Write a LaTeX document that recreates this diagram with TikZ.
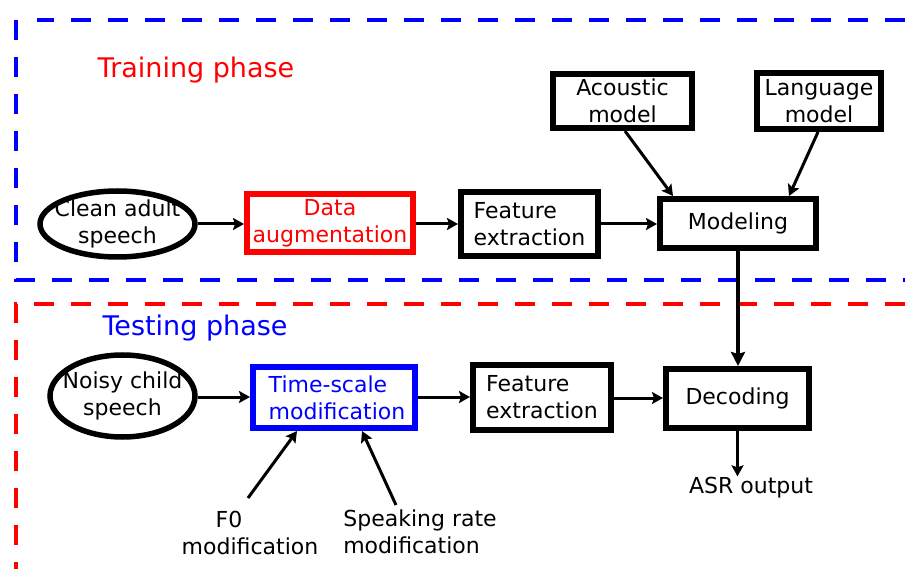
\documentclass[tikz,border=0pt]{standalone}
\usepackage{fontspec}
\setmainfont{DejaVu Sans}
\usetikzlibrary{arrows.meta,calc,shapes.geometric}
\begin{document}
\begin{tikzpicture}[x=1pt,y=-1pt,
  every node/.style={font=\fontsize{22}{27}\selectfont, align=center, inner sep=1pt},
  box/.style={draw, rectangle, line width=6pt},
  oval/.style={draw, ellipse, line width=5.5pt, inner sep=0pt},
  arr/.style={line width=3pt, -{Stealth[length=11pt,width=12pt,inset=2pt]}},
  bigarr/.style={line width=4.5pt, -{Stealth[length=14pt,width=14pt,inset=2pt]}},
  phase/.style={font=\fontsize{27}{32}\selectfont},
  frame/.style={line width=3.2pt, dash pattern=on 20pt off 17pt}
]
\useasboundingbox (0,0) rectangle (905,569);
% frames
\draw[frame, blue] (905,20) -- (37,20);
\draw[frame, blue] (16,20) -- (16,280) -- (905,280);
\draw[frame, red] (905,304) -- (16,304) -- (16,569);
\node[phase, text=red] (train) at (196,70) {Training phase};
\node[phase, text=blue] (test) at (195,328) {Testing phase};
% training
\node[oval, minimum width=155pt, minimum height=66pt, label={[align=center]center:Clean adult\\speech}] (clean) at (117.5,224) {};
\node[box, draw=red, text=red, minimum width=166pt, minimum height=58pt] (aug) at (330,223) {Data\\augmentation};
\node[box, align=left, minimum width=137pt, minimum height=64pt] (feat1) at (529.5,224) {Feature\\extraction};
\node[box, minimum width=156pt, minimum height=49pt] (model) at (738,223.5) {Modeling};
\node[box, minimum width=139pt, minimum height=54pt] (am) at (622.5,101) {Acoustic\\model};
\node[box, minimum width=124pt, minimum height=56pt] (lm) at (819,101) {Language\\model};
% testing
\node[oval, minimum width=145pt, minimum height=82pt, label={[align=center]center:Noisy child\\speech}] (noisy) at (122.5,396) {};
\node[box, align=left, draw=blue, text=blue, minimum width=162pt, minimum height=61pt] (ts) at (334,397.5) {\hspace*{6pt}Time-scale\\\hspace*{6pt}modification};
\node[box, align=left, minimum width=138pt, minimum height=65pt] (feat2) at (542,397.5) {Feature\\extraction};
\node[box, minimum width=143pt, minimum height=59pt] (dec) at (737.5,398.5) {Decoding};
\node (asr) at (751,488) {ASR output};
\node (f0) at (250,533) {F0\kern42pt\\modification};
\node[align=left] (sr) at (420,532) {Speaking rate\\modification};
\coordinate (f0s) at (248,498);
\coordinate (srs) at (396,505);
% connectors
\draw[arr] (clean.east |- 0,224) -- (aug.west |- 0,224);
\draw[arr] (aug.east |- 0,224) -- (feat1.west |- 0,224);
\draw[arr] (feat1.east |- 0,224) -- (model.west |- 0,224);
\draw[arr] ($(am.south)+(2.5,0)$) -- ($(model.north west)+(16,0)$);
\draw[arr] ($(lm.south)+(-1,0)$) -- ($(model.north east)+(-30,0)$);
\draw[bigarr] (model.south) -- (model.south |- dec.north);
\draw[arr] (noisy.east |- 0,397) -- (ts.west |- 0,397);
\draw[arr] (ts.east |- 0,397) -- (feat2.west |- 0,397);
\draw[arr] (feat2.east |- 0,398) -- (dec.west |- 0,398);
\draw[arr] (dec.south) -- (dec.south |- asr.north);
\draw[arr] (f0s) -- ($(ts.south)+(-37,0)$);
\draw[arr] (srs) -- ($(ts.south)+(28,0)$);
\end{tikzpicture}
\end{document}
